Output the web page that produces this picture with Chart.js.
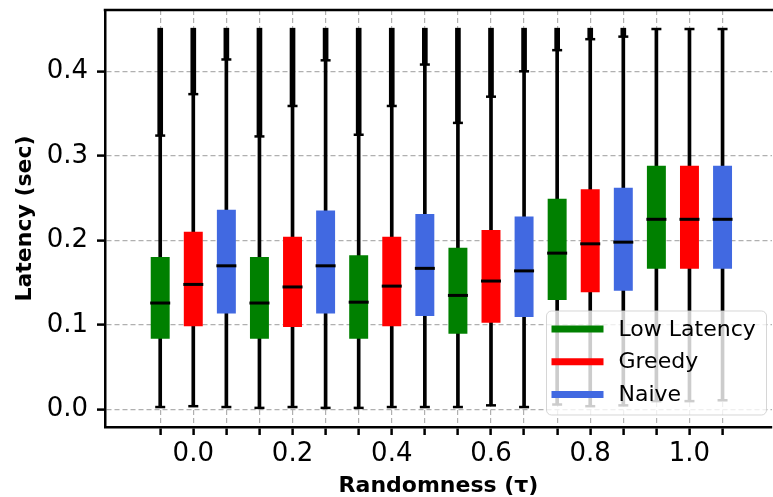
<!DOCTYPE html>
<html lang="en">
<head>
<meta charset="UTF-8" />
<title>Latency vs Randomness</title>
<script src="https://cdn.jsdelivr.net/npm/chart.js@4.4.0/dist/chart.umd.min.js"></script>
<style>
  body { margin: 0; background: #fff; }
  #wrap { width: 773px; height: 497px; }
</style>
</head>
<body>
<div id="wrap"><canvas id="myChart" width="773" height="497"></canvas></div>
<script>
// tick labels of the x axis (one group of three boxes per value)
const randomness = ['0.0', '0.2', '0.4', '0.6', '0.8', '1.0'];
const seriesNames = ['Low Latency', 'Greedy', 'Naive'];
const seriesColors = ['#008000', '#ff0000', '#4169e1'];
const yTicks = [0.0, 0.1, 0.2, 0.3, 0.4];

// box statistics, rows = series (Low Latency, Greedy, Naive), cols = randomness
const whiskerLow = [
  [0.003, 0.002, 0.002, 0.003, 0.006, 0.010],
  [0.004, 0.003, 0.003, 0.005, 0.004, 0.010],
  [0.003, 0.002, 0.003, 0.003, 0.005, 0.011]
];
const q1 = [
  [0.084, 0.084, 0.084, 0.090, 0.130, 0.167],
  [0.099, 0.098, 0.099, 0.103, 0.139, 0.167],
  [0.114, 0.114, 0.111, 0.110, 0.141, 0.167]
];
const median = [
  [0.126, 0.126, 0.127, 0.135, 0.185, 0.225],
  [0.148, 0.145, 0.146, 0.152, 0.196, 0.225],
  [0.170, 0.170, 0.167, 0.164, 0.198, 0.225]
];
const q3 = [
  [0.180, 0.180, 0.182, 0.191, 0.249, 0.288],
  [0.210, 0.204, 0.204, 0.212, 0.260, 0.288],
  [0.236, 0.235, 0.231, 0.228, 0.262, 0.288]
];
const whiskerHigh = [
  [0.324, 0.323, 0.325, 0.339, 0.425, 0.450],
  [0.373, 0.359, 0.359, 0.370, 0.438, 0.450],
  [0.414, 0.413, 0.408, 0.400, 0.441, 0.450]
];
// highest outlier (outliers drawn as a dense column above the whisker)
const fliersMax = [
  [0.451, 0.451, 0.451, 0.451, 0.451, null],
  [0.451, 0.451, 0.451, 0.451, 0.451, null],
  [0.451, 0.451, 0.451, 0.451, 0.451, null]
];

const nS = seriesNames.length;
const nBoxes = randomness.length * nS;
const pos = (g, s) => g * nS + s;

function collect(fn) {
  const out = [];
  randomness.forEach((r, g) => {
    for (let s = 0; s < nS; s++) {
      const v = fn(s, g);
      if (v) out.push(v);
    }
  });
  return out;
}

const medianPts = collect((s, g) => ({ x: pos(g, s), y: median[s][g] }));
const capPts = collect((s, g) => ({ x: pos(g, s), y: whiskerLow[s][g] }))
  .concat(collect((s, g) => ({ x: pos(g, s), y: whiskerHigh[s][g] })));
const whiskerBars = collect((s, g) => ({ x: pos(g, s), y: [whiskerLow[s][g], whiskerHigh[s][g]] }));
const flierBars = collect((s, g) => fliersMax[s][g] ? { x: pos(g, s), y: [whiskerHigh[s][g], fliersMax[s][g]] } : null);

const boxSets = seriesNames.map((name, s) => ({
  type: 'bar',
  label: name,
  data: randomness.map((r, g) => ({ x: pos(g, s), y: [q1[s][g], q3[s][g]] })),
  backgroundColor: seriesColors[s],
  borderWidth: 0,
  barThickness: 18.3,
  grouped: false,
  order: 2
}));

const topSpine = {
  id: 'topSpine',
  afterDraw(chart) {
    const { ctx, chartArea } = chart;
    ctx.save();
    ctx.strokeStyle = '#000';
    ctx.lineWidth = 2.5;
    ctx.beginPath();
    ctx.moveTo(chartArea.left - 1.25, chartArea.top);
    ctx.lineTo(chart.width, chartArea.top);
    ctx.stroke();
    ctx.restore();
  }
};

const legendBox = {
  id: 'legendBox',
  afterDraw(chart) {
    const { ctx, chartArea } = chart;
    const w = 220, h = 104;
    const x = chartArea.right - 5.5 - w;
    const y = chartArea.bottom - 12 - h;
    ctx.save();
    ctx.beginPath();
    ctx.roundRect(x, y, w, h, 5);
    ctx.fillStyle = 'rgba(255,255,255,0.8)';
    ctx.fill();
    ctx.strokeStyle = 'rgba(204,204,204,0.8)';
    ctx.lineWidth = 1;
    ctx.stroke();
    ctx.font = '22px "DejaVu Sans"';
    ctx.textBaseline = 'middle';
    seriesNames.forEach((name, s) => {
      const cy = y + 18 + s * 32.7;
      ctx.strokeStyle = seriesColors[s];
      ctx.lineWidth = 7;
      ctx.beginPath();
      ctx.moveTo(x + 5, cy);
      ctx.lineTo(x + 57, cy);
      ctx.stroke();
      ctx.fillStyle = '#000';
      ctx.fillText(name, x + 72, cy + 1);
    });
    ctx.restore();
  }
};

const ctx = document.getElementById('myChart').getContext('2d');
new Chart(ctx, {
  type: 'bar',
  data: {
    datasets: [
      {
        type: 'scatter',
        data: medianPts,
        pointStyle: 'line',
        radius: 10,
        borderColor: '#000',
        borderWidth: 3,
        order: 1
      },
      ...boxSets,
      {
        type: 'scatter',
        data: capPts,
        pointStyle: 'line',
        radius: 5,
        borderColor: '#000',
        borderWidth: 2.5,
        order: 3
      },
      {
        type: 'bar',
        data: flierBars,
        backgroundColor: '#000',
        barThickness: 5,
        grouped: false,
        order: 4
      },
      {
        type: 'bar',
        data: whiskerBars,
        backgroundColor: '#000',
        barThickness: 3,
        grouped: false,
        order: 5
      }
    ]
  },
  options: {
    responsive: false,
    animation: false,
    layout: { autoPadding: false, padding: { top: 10, right: 1, left: 0, bottom: 0 } },
    plugins: { legend: { display: false }, tooltip: { enabled: false } },
    scales: {
      x: {
        type: 'linear',
        offset: false,
        min: -1.669,
        max: 18.495,
        afterBuildTicks: (scale) => {
          scale.ticks = Array.from({ length: nBoxes }, (_, i) => ({ value: i }));
        },
        afterFit: (scale) => {
          scale.height = 70;
          scale.paddingLeft = 0;
          scale.paddingRight = 0;
        },
        ticks: {
          autoSkip: false,
          maxRotation: 0,
          padding: 3.5,
          color: '#000',
          font: { family: 'DejaVu Sans', size: 26 },
          callback: (v) => (v % nS === 1 ? randomness[(v - 1) / nS] : '')
        },
        grid: {
          offset: false,
          color: '#b0b0b0',
          lineWidth: 1.2,
          tickColor: '#000',
          tickWidth: 2.5,
          tickLength: 8
        },
        border: { display: true, color: '#000', width: 2.5, dash: [5, 3] },
        title: {
          display: true,
          text: 'Randomness (τ)',
          color: '#000',
          font: { family: 'DejaVu Sans', size: 22, weight: 'bold', lineHeight: 1 },
          padding: { top: 0, bottom: 0 }
        }
      },
      y: {
        min: -0.0206,
        max: 0.4725,
        afterBuildTicks: (scale) => {
          scale.ticks = yTicks.map(v => ({ value: v }));
        },
        afterFit: (scale) => {
          scale.width = 105;
          scale.paddingTop = 0;
          scale.paddingBottom = 0;
        },
        ticks: {
          padding: 9,
          color: '#000',
          font: { family: 'DejaVu Sans', size: 26 },
          callback: (v) => v.toFixed(1)
        },
        grid: {
          color: '#b0b0b0',
          lineWidth: 1.2,
          tickColor: '#000',
          tickWidth: 2.5,
          tickLength: 8
        },
        border: { display: true, color: '#000', width: 2.5, dash: [5, 3] },
        title: {
          display: true,
          text: 'Latency (sec)',
          color: '#000',
          font: { family: 'DejaVu Sans', size: 22, weight: 'bold', lineHeight: 1 },
          padding: { top: 14, bottom: 0 }
        }
      }
    }
  },
  plugins: [topSpine, legendBox]
});
</script>
</body>
</html>
